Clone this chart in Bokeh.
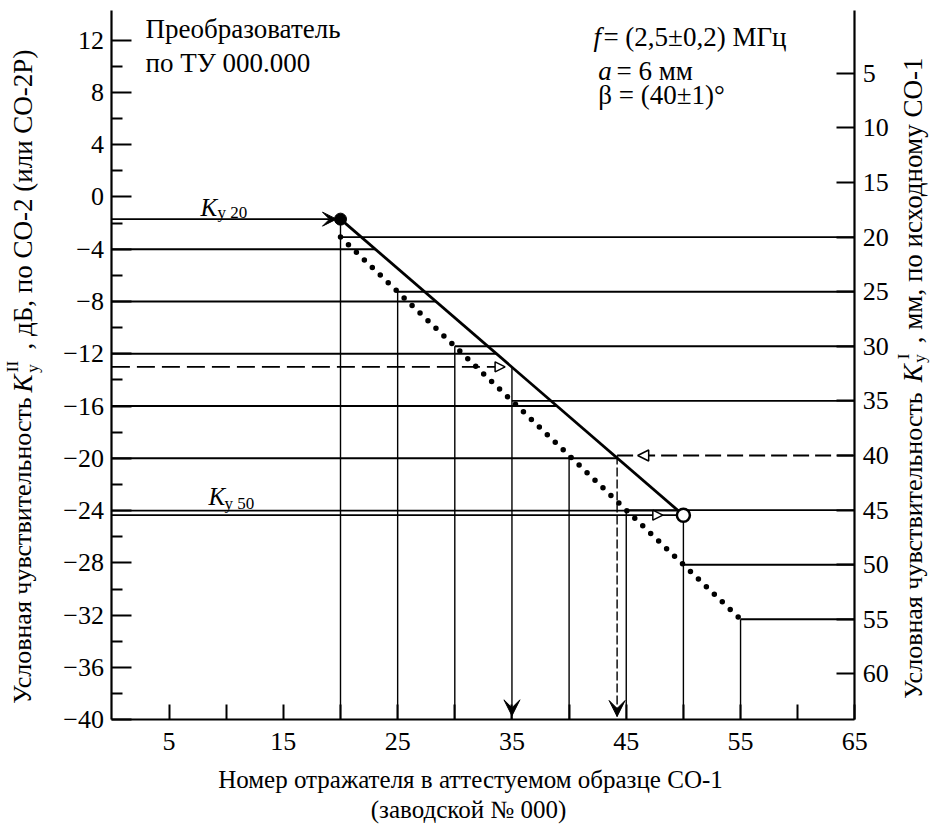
import math
from bokeh.plotting import figure
from bokeh.models import Range1d, LinearAxis, FixedTicker, Label, Arrow, VeeHead, NormalHead
from bokeh.embed import file_html
from bokeh.resources import INLINE

# ---------------- data ----------------
x_major_ticks = [5, 15, 25, 35, 45, 55, 65]
x_minor_ticks = [10, 20, 30, 40, 50, 60]
db_major_ticks = [12, 8, 4, 0, -4, -8, -12, -16, -20, -24, -28, -32, -36, -40]
db_minor_ticks = [10, 6, 2, -2, -6, -10, -14, -18, -22, -26, -30, -34, -38]
mm_ticks = [5, 10, 15, 20, 25, 30, 35, 40, 45, 50, 55, 60]

reflectors = [20, 25, 30, 35, 40, 45, 50, 55]      # reflector No. in attested CO-1
mm_levels = [20, 25, 30, 35, 40, 45, 50, 55]       # K_y^I, mm (original CO-1)
db_levels = [-4, -8, -12, -16, -20, -24]           # K_y^II, dB grid lines

k20_refl, k20_db = 20, -1.7
k50_refl, k50_db = 50, -24.35
meas_db, meas_db_refl = -13.0, 35
meas_mm, meas_mm_refl = 40, 44.2

# ---------------- layout (pixel calibration of the canvas) ----------------
FONT = "Liberation Serif"
W, H = 930, 825
X0, X1 = 0, 65
DB_BOTTOM, DB_TOP = -40, 14.26
MM_BOTTOM, MM_TOP = 64.2, -0.75
PX_X0, PX_PER_X = 111.4, 11.43          # x = 0 at pixel 111.4
PX_DB, PX_PER_DB = 379.4, 13.07         # dB = -14 at pixel 379.4
PX_MM, PX_PER_MM = 373.1, 10.92         # mm = 32.5 at pixel 373.1

x_rng = Range1d((0 - PX_X0) / PX_PER_X, (W - PX_X0) / PX_PER_X)
y_rng = Range1d((PX_DB - H) / PX_PER_DB - 14, PX_DB / PX_PER_DB - 14)
mm_rng = Range1d(start=32.5 + (H - PX_MM) / PX_PER_MM, end=32.5 - PX_MM / PX_PER_MM)

p = figure(width=W, height=H, x_range=x_rng, y_range=y_rng,
           x_axis_location=None, y_axis_location=None,
           output_backend="svg", toolbar_location=None, min_border=0)
p.extra_y_ranges = {"mm": mm_rng}
p.grid.visible = False
p.outline_line_color = None
p.background_fill_color = "white"
p.border_fill_color = "white"


def style_axis(ax, tick_in, minor_in, standoff):
    ax.axis_line_width = 2.2
    ax.axis_line_color = "black"
    ax.major_tick_in = tick_in
    ax.major_tick_out = 0
    ax.minor_tick_in = minor_in
    ax.minor_tick_out = 0
    ax.major_tick_line_width = 2
    ax.minor_tick_line_width = 2
    ax.major_tick_line_color = "black"
    ax.minor_tick_line_color = "black"
    ax.major_label_text_font = FONT
    ax.major_label_text_font_size = "26px"
    ax.major_label_text_color = "black"
    ax.major_label_standoff = standoff


xax = LinearAxis(fixed_location=DB_BOTTOM, bounds=(X0, X1),
                 ticker=FixedTicker(ticks=x_major_ticks, minor_ticks=x_minor_ticks))
style_axis(xax, 15, 15, 13)
p.add_layout(xax, "below")

yax = LinearAxis(fixed_location=X0, bounds=(DB_BOTTOM, DB_TOP),
                 ticker=FixedTicker(ticks=db_major_ticks, minor_ticks=db_minor_ticks))
yax.major_label_overrides = {t: ("\u2212" + str(abs(t)) if t < 0 else str(t)) for t in db_major_ticks}
style_axis(yax, 20, 11, 8)
p.add_layout(yax, "left")

rax = LinearAxis(y_range_name="mm", fixed_location=X1, bounds=(MM_TOP, MM_BOTTOM),
                 ticker=FixedTicker(ticks=mm_ticks, minor_ticks=[]))
style_axis(rax, 18, 0, 8)
p.add_layout(rax, "right")


def x_on_line(db):
    return k20_refl + (k20_db - db) / (k20_db - k50_db) * (k50_refl - k20_refl)


# dB grid lines from left axis to the straight line
p.segment(x0=[X0] * len(db_levels), y0=db_levels, x1=[x_on_line(d) for d in db_levels], y1=db_levels,
          line_color="black", line_width=1.9)
# K_y50 line
p.segment(x0=[X0], y0=[k50_db], x1=[k50_refl], y1=[k50_db], line_color="black", line_width=1.9)

# mm lines from the dotted line to right axis
mm_solid = [m for m in mm_levels if m != meas_mm]
p.segment(x0=mm_solid, y0=mm_solid, x1=[X1] * len(mm_solid), y1=mm_solid,
          y_range_name="mm", line_color="black", line_width=1.9)
# dashed measured lines
p.segment(x0=[X0], y0=[meas_db], x1=[meas_db_refl], y1=[meas_db],
          line_color="black", line_width=1.9, line_dash="18 7")
p.segment(x0=[meas_mm_refl], y0=[meas_mm], x1=[X1], y1=[meas_mm], y_range_name="mm",
          line_color="black", line_width=1.9, line_dash="16 6")

# verticals
v_mm = [r for r in reflectors if r not in (k20_refl, k50_refl, meas_db_refl)]
p.segment(x0=v_mm, y0=v_mm, x1=v_mm, y1=[MM_BOTTOM] * len(v_mm), y_range_name="mm",
          line_color="black", line_width=1.4)
p.segment(x0=[k20_refl, k50_refl, meas_db_refl], y0=[k20_db, k50_db, meas_db],
          x1=[k20_refl, k50_refl, meas_db_refl], y1=[DB_BOTTOM] * 3,
          line_color="black", line_width=1.4)
p.segment(x0=[meas_mm_refl], y0=[meas_mm], x1=[meas_mm_refl], y1=[MM_BOTTOM], y_range_name="mm",
          line_color="black", line_width=1.4, line_dash="9 3")

# straight line K20 -> K50
p.line([k20_refl, k50_refl], [k20_db, k50_db], line_color="black", line_width=2.8)
# dotted calibration line
p.line(reflectors, mm_levels, y_range_name="mm", line_color="black", line_width=5.5,
       line_dash="0 11", line_cap="round")
# points
p.scatter([k20_refl], [k20_db], size=12, fill_color="black", line_color="black")
p.scatter([k50_refl], [k50_db], size=13, fill_color="white", line_color="black", line_width=2.5)

# arrows
p.add_layout(Arrow(end=VeeHead(size=14, fill_color="black", line_color="black", line_width=1),
                   x_start=X0, y_start=k20_db, x_end=k20_refl - 0.35, y_end=k20_db,
                   line_color="black", line_width=1.9))
p.add_layout(Arrow(end=VeeHead(size=16, fill_color="black", line_color="black", line_width=1),
                   x_start=meas_db_refl, y_start=-30, x_end=meas_db_refl, y_end=DB_BOTTOM + 0.3,
                   line_alpha=0))
p.add_layout(Arrow(end=VeeHead(size=16, fill_color="black", line_color="black", line_width=1),
                   x_start=meas_mm_refl, y_start=55, x_end=meas_mm_refl, y_end=MM_BOTTOM - 0.3,
                   y_range_name="mm", line_alpha=0))
p.add_layout(Arrow(end=NormalHead(size=11, fill_color="white", line_color="black", line_width=1.5),
                   x_start=47.2, y_start=meas_mm, x_end=46.0, y_end=meas_mm,
                   y_range_name="mm", line_alpha=0))
p.add_layout(Arrow(end=NormalHead(size=10, fill_color="white", line_color="black", line_width=1.5),
                   x_start=33.3, y_start=meas_db, x_end=34.4, y_end=meas_db, line_alpha=0))
p.add_layout(Arrow(end=NormalHead(size=10, fill_color="white", line_color="black", line_width=1.5),
                   x_start=47.2, y_start=k50_db, x_end=48.2, y_end=k50_db, line_alpha=0))


# texts
def lab(x, y, text, size=27, italic=False, angle=0.0, align="left", baseline="alphabetic"):
    p.add_layout(Label(x=x, y=y, text=text, text_font=FONT, text_font_size=f"{size}px",
                       text_font_style="italic" if italic else "normal", text_color="black",
                       angle=angle, text_align=align, text_baseline=baseline))


lab(2.94, 12.81, "Преобразователь")
lab(2.94, 10.28, "по ТУ 000.000")
lab(42.13, 12.27, "f", italic=True)
lab(43.0, 12.27, "= (2,5±0,2) МГц")
lab(42.55, 9.67, "a", italic=True)
lab(44.14, 9.67, "= 6 мм")
lab(42.55, 7.76, "β = (40±1)°")

lab(7.75, k20_db + 0.92, "K", size=25, italic=True)
lab(9.24, k20_db + 0.54, "у 20", size=17)
lab(8.45, -22.92, "K", size=25, italic=True)
lab(9.85, -23.46, "у 50", size=17)

# bottom title
lab(31.37, -44.55, "Номер отражателя в аттестуемом образце СО-1", size=25, align="center")
lab(31.2, -46.85, "(заводской № 000)", size=25, align="center")

# left rotated title
A = math.pi / 2
lab(-7.82, -27.05, "Условная чувствительность", size=26, angle=A, align="center", baseline="middle")
lab(-7.82, -14.28, "K", size=27, italic=True, angle=A, align="center", baseline="middle")
lab(-6.95, -13.13, "у", size=17, angle=A, align="center", baseline="middle")
lab(-8.7, -12.98, "II", size=17, angle=A, align="center", baseline="middle")
lab(-7.82, -0.2, ", дБ, по СО-2 (или СО-2Р)", size=27, angle=A, align="center", baseline="middle")

# right rotated title
lab(70.1, -26.67, "Условная чувствительность", size=26, angle=A, align="center", baseline="middle")
lab(70.1, -13.5, "K", size=27, italic=True, angle=A, align="center", baseline="middle")
lab(70.65, -12.36, "у", size=17, angle=A, align="center", baseline="middle")
lab(69.25, -12.2, "I", size=17, angle=A, align="center", baseline="middle")
lab(70.1, -0.27, ", мм, по исходному СО-1", size=27, angle=A, align="center", baseline="middle")

open("out.html", "w").write(file_html(p, INLINE))
